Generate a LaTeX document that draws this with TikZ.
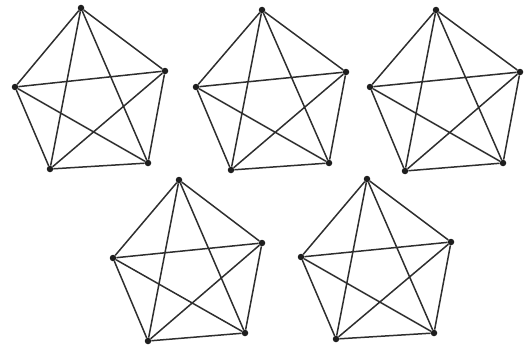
\documentclass[tikz,border=0pt]{standalone}
\usepackage{tikz}
\usepackage{xcolor}
\definecolor{edgecolor}{HTML}{2E2E2E}
\definecolor{dotcolor}{HTML}{1E1E1E}

\begin{document}
\begin{tikzpicture}[x=1pt, y=-1pt,
    vertex/.style={circle, fill=dotcolor, inner sep=0pt, minimum size=6.5pt},
    edge/.style={draw=edgecolor, line width=1.5pt}]
        \useasboundingbox (0,0) rectangle (526,345);

        % Top row -- first K5
        \node[vertex] (aT) at (81,8) {};
        \node[vertex] (aR) at (165,71) {};
        \node[vertex] (aL) at (15,87) {};
        \node[vertex] (aBL) at (50,169) {};
        \node[vertex] (aBR) at (148,163) {};
        \path[edge] (aT) -- (aR) (aT) -- (aL) (aT) -- (aBL) (aT) -- (aBR)
            (aR) -- (aL) (aR) -- (aBL) (aR) -- (aBR)
            (aL) -- (aBL) (aL) -- (aBR) (aBL) -- (aBR);

        % Top row -- second K5
        \node[vertex] (bT) at (262,10) {};
        \node[vertex] (bR) at (346,72) {};
        \node[vertex] (bL) at (196,87) {};
        \node[vertex] (bBL) at (231,170) {};
        \node[vertex] (bBR) at (329,163) {};
        \path[edge] (bT) -- (bR) (bT) -- (bL) (bT) -- (bBL) (bT) -- (bBR)
            (bR) -- (bL) (bR) -- (bBL) (bR) -- (bBR)
            (bL) -- (bBL) (bL) -- (bBR) (bBL) -- (bBR);

        % Top row -- third K5
        \node[vertex] (cT) at (436,10) {};
        \node[vertex] (cR) at (520,72) {};
        \node[vertex] (cL) at (370,87) {};
        \node[vertex] (cBL) at (405,171) {};
        \node[vertex] (cBR) at (503,163) {};
        \path[edge] (cT) -- (cR) (cT) -- (cL) (cT) -- (cBL) (cT) -- (cBR)
            (cR) -- (cL) (cR) -- (cBL) (cR) -- (cBR)
            (cL) -- (cBL) (cL) -- (cBR) (cBL) -- (cBR);

        % Bottom row -- fourth K5
        \node[vertex] (dT) at (179,180) {};
        \node[vertex] (dR) at (262,243) {};
        \node[vertex] (dL) at (113,258) {};
        \node[vertex] (dBL) at (148,341) {};
        \node[vertex] (dBR) at (245,333) {};
        \path[edge] (dT) -- (dR) (dT) -- (dL) (dT) -- (dBL) (dT) -- (dBR)
            (dR) -- (dL) (dR) -- (dBL) (dR) -- (dBR)
            (dL) -- (dBL) (dL) -- (dBR) (dBL) -- (dBR);

        % Bottom row -- fifth K5
        \node[vertex] (eT) at (367,179) {};
        \node[vertex] (eR) at (451,242) {};
        \node[vertex] (eL) at (301,257) {};
        \node[vertex] (eBL) at (336,339) {};
        \node[vertex] (eBR) at (434,333) {};
        \path[edge] (eT) -- (eR) (eT) -- (eL) (eT) -- (eBL) (eT) -- (eBR)
            (eR) -- (eL) (eR) -- (eBL) (eR) -- (eBR)
            (eL) -- (eBL) (eL) -- (eBR) (eBL) -- (eBR);
      \end{tikzpicture}
\end{document}
